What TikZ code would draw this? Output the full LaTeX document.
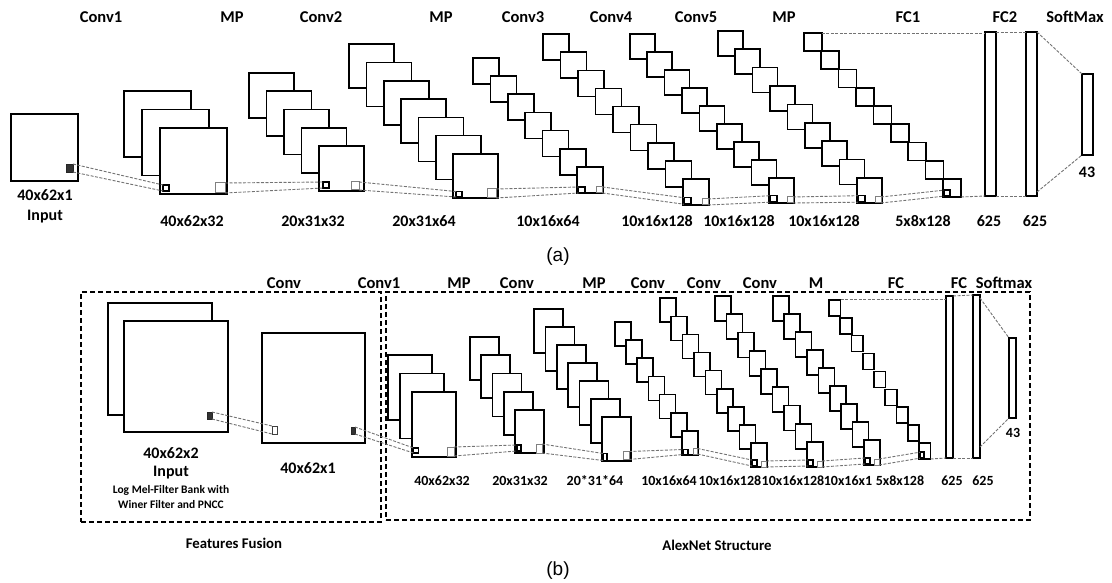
\documentclass[tikz,border=0pt]{standalone}
\usepackage{fontspec}
\setmainfont{Carlito}
\newfontfamily\arialf{Liberation Sans}
\tikzset{
 fm/.style={rectangle, draw=black, line width=1.6pt, fill=white, inner sep=0pt, outer sep=0pt},
 lsq/.style={rectangle, draw=black, line width=1.6pt, fill=white, inner sep=0pt, outer sep=0pt},
 rsq/.style={rectangle, draw=black!50, line width=1pt, fill=white, inner sep=0pt, outer sep=0pt},
 dk/.style={rectangle, draw=black!85, fill=black!80, line width=0.5pt, inner sep=0pt, outer sep=0pt},
 fcbar/.style={rectangle, draw=black, line width=2.6pt, fill=white, inner sep=0pt, outer sep=0pt},
 dl/.style={draw=black!55, line width=0.9pt, dash pattern=on 3pt off 1.5pt},
 grp/.style={rectangle, draw=black, line width=1.3pt, dash pattern=on 5pt off 3pt, inner sep=0pt, outer sep=0pt},
 toplab/.style={inner sep=0pt, font=\fontsize{16.5}{18}\selectfont\bfseries},
 botlab/.style={inner sep=0pt, font=\fontsize{16}{18}\selectfont\bfseries},
 botlabb/.style={inner sep=0pt, font=\fontsize{14}{16}\selectfont\bfseries},
 grplab/.style={inner sep=0pt, font=\fontsize{14.8}{16}\selectfont\bfseries},
 smalllab/.style={inner sep=0pt, font=\fontsize{11.5}{13}\selectfont\bfseries},
 panlab/.style={inner sep=0pt, font=\fontsize{19}{21}\selectfont\arialf},
}
% #1 name, #2 n, #3 front x, #4 front y, #5 w, #6 h, #7 dx, #8 dy
\newcommand{\fmstack}[8]{%
 \foreach \i in {1,...,#2}{%
  \pgfmathsetmacro{\xx}{#3-(#2-\i)*#7}%
  \pgfmathsetmacro{\yy}{#4-(#2-\i)*#8}%
  \node[fm, minimum width=#5, minimum height=#6, anchor=north west] (#1-\i) at (\xx,\yy) {};%
 }%
}
\newcommand{\lsmall}[5]{\node[lsq, minimum width=#3, minimum height=#4, anchor=south west] (#1) at ([shift={#5}]#2.south west) {};}
\newcommand{\rsmall}[5]{\node[rsq, minimum width=#3, minimum height=#4, anchor=south east] (#1) at ([shift={#5}]#2.south east) {};}
\newcommand{\fmlink}[2]{\draw[dl] (#1.north east) -- (#2.north west); \draw[dl] (#1.south east) -- (#2.south west);}
\begin{document}
\begin{tikzpicture}[x=1pt,y=-1pt]
\path[use as bounding box] (0,0) rectangle (1112,583);

%%%%%%%%%%%%%%%% (a)
\node[fm, minimum width=67, minimum height=67, anchor=north west] (a-in) at (11,114) {};
\node[dk, minimum width=7, minimum height=8, anchor=north west] (a-ind) at (66,164) {};

\fmstack{a-c1}{3}{160}{128}{67}{66}{18}{18.5}
\fmstack{a-c2}{5}{319}{146}{45}{45}{17.5}{18.25}
\fmstack{a-m1}{7}{453}{154}{45}{44}{17.3}{18.3}
\fmstack{a-c3}{7}{577}{167}{26}{26}{17.3}{18.2}
\fmstack{a-c4}{9}{683}{179}{26}{26}{17.5}{18.1}
\fmstack{a-c5}{9}{769}{178}{25}{25}{17.4}{18}
\fmstack{a-m2}{9}{857}{178}{25}{25}{17.4}{18.4}
\fmstack{a-fc1}{9}{943}{179}{18}{18}{17.4}{18.25}

\lsmall{a-c1L}{a-c1-3}{6}{6}{(3,-3)}
\rsmall{a-c1R}{a-c1-3}{10}{10}{(-2,-1)}
\lsmall{a-c2L}{a-c2-5}{6}{6}{(4,-3)}
\rsmall{a-c2R}{a-c2-5}{8}{8}{(-5,-1)}
\lsmall{a-m1L}{a-m1-7}{6}{5.5}{(3,-1)}
\rsmall{a-m1R}{a-m1-7}{9}{9}{(-2,0)}
\lsmall{a-c3L}{a-c3-7}{6.5}{6}{(1.5,0)}
\rsmall{a-c3R}{a-c3-7}{6.5}{6}{(-0.5,0)}
\lsmall{a-c4L}{a-c4-9}{7}{6.5}{(0.8,-0.8)}
\rsmall{a-c4R}{a-c4-9}{6}{6}{(-1,0)}
\lsmall{a-c5L}{a-c5-9}{7}{6.5}{(0.8,-0.8)}
\rsmall{a-c5R}{a-c5-9}{6}{6}{(-1,0)}
\lsmall{a-m2L}{a-m2-9}{7}{6.5}{(0.8,-0.8)}
\rsmall{a-m2R}{a-m2-9}{6}{6}{(-1,0)}
\lsmall{a-fc1L}{a-fc1-9}{6}{6}{(0.8,-0.8)}

\node[fcbar, minimum width=11, minimum height=164, anchor=north west] (a-fc2a) at (985,32) {};
\node[fcbar, minimum width=11, minimum height=164, anchor=north west] (a-fc2b) at (1026,32) {};
\node[fcbar, minimum width=11, minimum height=81, anchor=north west] (a-sm) at (1082,74) {};

\draw[dl] (a-ind.north east) -- (a-c1L.north west);
\draw[dl] (a-ind.south east) -- (a-c1L.south west);
\fmlink{a-c1R}{a-c2L}
\fmlink{a-c2R}{a-m1L}
\fmlink{a-m1R}{a-c3L}
\fmlink{a-c3R}{a-c4L}
\fmlink{a-c4R}{a-c5L}
\fmlink{a-c5R}{a-m2L}
\fmlink{a-m2R}{a-fc1L}
\draw[dl] (a-fc1-1.north east) -- (a-fc1-1.north east -| a-fc2a.west);
\draw[dl] (a-fc1-9.south east) -- (a-fc2a.south west);
\draw[dl] (a-fc2a.north east) -- (a-fc2b.north west);
\draw[dl] (a-fc2a.south east) -- (a-fc2b.south west);
\draw[dl] (a-fc2b.north east) -- (a-sm.north west);
\draw[dl] ([yshift=4pt]a-fc2b.south east) -- (a-sm.south west);

\foreach \x/\t [count=\k] in {101/Conv1, 232/MP, 321/Conv2, 441/MP, 523/Conv3, 611/Conv4, 696/Conv5, 784/MP, 908/FC1, 1005/FC2, 1075/SoftMax}
  \node[toplab] (ta-\k) at (\x,17) {\t};
\foreach \x/\t [count=\k] in {192/40x62x32, 313/20x31x32, 424/20x31x64, 548/10x16x64, 657/10x16x128, 739/10x16x128, 824/10x16x128, 923/5x8x128, 989/625, 1035/625}
  \node[botlab] (ba-\k) at (\x,221) {\t};
\node[botlab] (a-inlab1) at (45,195) {40x62x1};
\node[botlab] (a-inlab2) at (45,217) {Input};
\node[botlab] (a-smlab) at (1087,172) {43};
\node[panlab] (pa) at (558,257) {(a)};

%%%%%%%%%%%%%%%% (b)
\node[grp, minimum width=300, minimum height=230, anchor=north west] (ffbox) at (81,292) {};
\node[grp, minimum width=644, minimum height=228, anchor=north west] (axbox) at (386,292) {};

\node[fm, minimum width=104, minimum height=112, anchor=north west] (b-in-1) at (108,303) {};
\node[fm, minimum width=104, minimum height=111, anchor=north west] (b-in-2) at (124,321) {};
\node[dk, minimum width=5, minimum height=7, anchor=north west] (b-ind) at (207,412) {};
\node[fm, minimum width=103, minimum height=110, anchor=north west] (b-f1) at (262,333) {};
\node[rectangle, draw=black!75, line width=0.8pt, fill=white, inner sep=0pt, outer sep=0pt, minimum width=5, minimum height=8, anchor=north west] (b-f1w) at (272,426) {};
\node[dk, minimum width=4, minimum height=7, anchor=north west] (b-f1d) at (351,427) {};

\fmstack{b-c1}{3}{412}{392}{44}{65}{12}{18.5}
\fmstack{b-c2}{5}{515}{410}{29}{43}{11.25}{18.25}
\fmstack{b-m1}{7}{602}{417}{29}{44}{11.3}{18}
\fmstack{b-c3}{7}{682}{431}{16}{24}{11.2}{18.2}
\fmstack{b-c4}{9}{751}{443}{16}{24}{11.4}{18.1}
\fmstack{b-c5}{9}{807}{442}{16}{25}{11.5}{18.25}
\fmstack{b-m2}{9}{864}{440}{16}{25}{11.4}{18}
\fmstack{b-fc}{9}{919}{443}{11.5}{16}{11.25}{17.9}

\lsmall{b-c1L}{b-c1-3}{5}{5}{(1.5,-4)}
\rsmall{b-c1R}{b-c1-3}{7}{9}{(-2,-1)}
\lsmall{b-c2L}{b-c2-5}{4}{6}{(2,-2)}
\rsmall{b-c2R}{b-c2-5}{6}{9}{(-2,0)}
\lsmall{b-m1L}{b-m1-7}{4}{7}{(1.2,-0.5)}
\rsmall{b-m1R}{b-m1-7}{6}{8}{(-2,-1.5)}
\lsmall{b-c3L}{b-c3-7}{5}{5}{(1,-0.5)}
\rsmall{b-c3R}{b-c3-7}{4}{5.5}{(-0.5,-1)}
\lsmall{b-c4L}{b-c4-9}{5}{6}{(0.8,-1)}
\rsmall{b-c4R}{b-c4-9}{5}{6}{(-1,0)}
\lsmall{b-c5L}{b-c5-9}{5}{6}{(0.8,-1)}
\rsmall{b-c5R}{b-c5-9}{5}{6}{(-1,0)}
\lsmall{b-m2L}{b-m2-9}{5}{6}{(0.8,-1)}
\rsmall{b-m2R}{b-m2-9}{5}{6}{(-1,0)}
\lsmall{b-fcL}{b-fc-9}{4}{6}{(0.8,-0.8)}

\node[fcbar, minimum width=7, minimum height=162, anchor=north west] (b-fca) at (946,296) {};
\node[fcbar, minimum width=7, minimum height=163, anchor=north west] (b-fcb) at (973,295) {};
\node[fcbar, minimum width=7, minimum height=80, anchor=north west] (b-sm) at (1009,338) {};

\draw[dl] (b-ind.north east) -- (b-f1w.north west);
\draw[dl] (b-ind.south east) -- (b-f1w.south west);
\draw[dl] (b-f1d.north east) -- (b-c1L.north west);
\draw[dl] (b-f1d.south east) -- (b-c1L.south west);
\fmlink{b-c1R}{b-c2L}
\fmlink{b-c2R}{b-m1L}
\fmlink{b-m1R}{b-c3L}
\fmlink{b-c3R}{b-c4L}
\fmlink{b-c4R}{b-c5L}
\fmlink{b-c5R}{b-m2L}
\fmlink{b-m2R}{b-fcL}
\draw[dl] (b-fc-1.north east) -- (b-fc-1.north east -| b-fca.west);
\draw[dl] (b-fc-9.south east) -- (b-fca.south west);
\draw[dl] (b-fca.north east) -- (b-fcb.north west);
\draw[dl] (b-fca.south east) -- (b-fcb.south west);
\draw[dl] ([yshift=-3pt]b-fcb.north east) -- (b-sm.north west);
\draw[dl] ([yshift=11pt]b-fcb.south east) -- (b-sm.south west);

\foreach \x/\t [count=\k] in {284/Conv, 379/Conv1, 459/MP, 517/Conv, 594/MP, 648/Conv, 704/Conv, 760/Conv, 816/M, 896/FC, 959/FC, 1004/Softmax}
  \node[toplab] (tb-\k) at (\x,283) {\t};
\foreach \x/\t [count=\k] in {442/40x62x32, 520/20x31x32, 595/20*31*64, 669/10x16x64, 730/10x16x128, 793/10x16x128, 848/10x16x1, 900/5x8x128, 952/625, 983/625}
  \node[botlabb] (bb-\k) at (\x,481) {\t};
\node[botlab] (b-inlab1) at (171,453) {40x62x2};
\node[botlab] (b-inlab2) at (171,473) {Input};
\node[smalllab] (b-inlab3) at (171,490) {Log Mel-Filter Bank with};
\node[smalllab] (b-inlab4) at (171,505) {Winer Filter and PNCC};
\node[botlab] (b-f1lab) at (308,468) {40x62x1};
\node[botlabb] (b-smlab) at (1013,433) {43};
\node[grplab] (fflab) at (234,543) {Features Fusion};
\node[grplab] (axlab) at (717,545) {AlexNet Structure};
\node[panlab] (pb) at (558,571) {(b)};
\end{tikzpicture}
\end{document}
